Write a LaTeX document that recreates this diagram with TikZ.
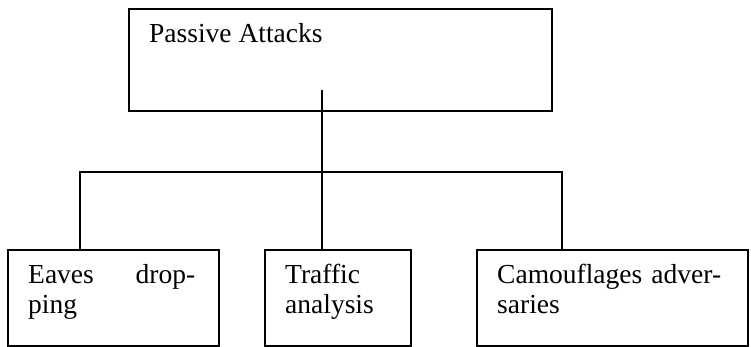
\documentclass[tikz,border=0pt]{standalone}
\usepackage{fontspec}
\setmainfont{Liberation Serif}
\begin{document}
\begin{tikzpicture}[x=1pt,y=-1pt,
  box/.style={draw=black,line width=1.6pt,rectangle,inner sep=0pt,anchor=north west},
  lbl/.style={inner sep=0pt,anchor=base west,font=\fontsize{27.5}{30}\selectfont},
  wire/.style={draw=black,line width=1.6pt}]
\useasboundingbox (0,0) rectangle (751,347);
% boxes
\node[box,minimum width=423pt,minimum height=102pt] (top) at (128,8) {};
\node[box,minimum width=211pt,minimum height=96pt] (left) at (7,249) {};
\node[box,minimum width=146pt,minimum height=96pt] (mid) at (264,249) {};
\node[box,minimum width=271pt,minimum height=96pt] (right) at (476,249) {};
% texts
\node[lbl] (ttop) at (149,43) {Passive Attacks};
\node[lbl,text width=167pt,align=left] (tleft) at (28,283) {Eaves\hfill drop-\\ping};
\node[lbl,text width=110pt,align=left] (tmid) at (285,283) {Traffic\\analysis};
\node[lbl,text width=240pt,align=left] (tright) at (497,283) {Camouflages adver-\\saries};
% connectors
\coordinate (stem) at (322,90);
\coordinate (hl) at (80,172);
\coordinate (hr) at (562,172);
\draw[wire] (stem) -- (stem |- mid.north);
\draw[wire] (left.north -| hl) -- (hl) -- (hr) -- (right.north -| hr);
\end{tikzpicture}
\end{document}
